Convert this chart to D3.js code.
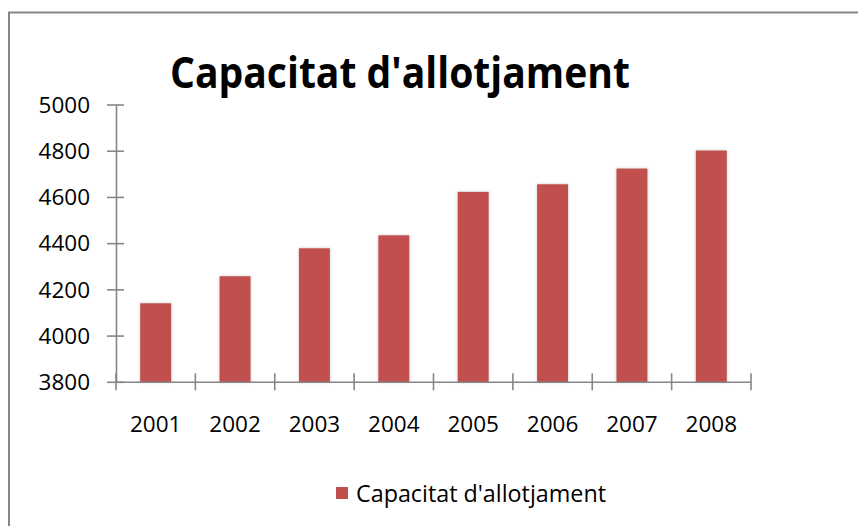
<!DOCTYPE html>
<html>
<head>
<meta charset="utf-8">
<script src="https://cdn.jsdelivr.net/npm/d3@7"></script>
<style>
  html, body { margin: 0; padding: 0; background: #fff; }
  svg { display: block; }
</style>
</head>
<body>
<div id="chart"></div>
<script>
const categories = ["2001", "2002", "2003", "2004", "2005", "2006", "2007", "2008"];
const values = [4142, 4259, 4380, 4436, 4624, 4657, 4725, 4803];
const yTicks = [3800, 4000, 4200, 4400, 4600, 4800, 5000];
const seriesName = "Capacitat d'allotjament";
const titleText = "Capacitat d'allotjament";

const W = 858, H = 526;
const axisColor = "#868686";
const barColor = "#C0504D";
const font = "'Open Sans', sans-serif";

const svg = d3.select("#chart").append("svg").attr("width", W).attr("height", H);

const defs = svg.append("defs");
const f = defs.append("filter").attr("id", "glow").attr("x", "-30%").attr("y", "-10%").attr("width", "160%").attr("height", "120%");
f.append("feDropShadow").attr("dx", 0).attr("dy", 0).attr("stdDeviation", 1.6)
  .attr("flood-color", "#999").attr("flood-opacity", 0.55);

// outer border
svg.append("rect").attr("x", 9).attr("y", 12.5).attr("width", W + 20).attr("height", H + 20)
  .attr("fill", "none").attr("stroke", axisColor).attr("stroke-width", 2);

const x0 = 116, x1 = 751, yTop = 105, yBot = 382.3;
const y = d3.scaleLinear().domain([3800, 5000]).range([yBot, yTop]);
const pad = 0.61;
const x = d3.scaleBand().domain(categories).range([x0, x1]).paddingInner(pad).paddingOuter(pad / 2);
const xEdge = d3.scaleLinear().domain([0, categories.length]).range([x0, x1]);

// bars
svg.append("g").selectAll("rect").data(values).join("rect")
  .attr("x", (d, i) => x(categories[i]))
  .attr("y", d => y(d))
  .attr("width", x.bandwidth())
  .attr("height", d => y(3800) - y(d))
  .attr("fill", barColor)
  .attr("filter", "url(#glow)");

// y axis
const yAxis = svg.append("g").attr("transform", `translate(${x0},0)`)
  .call(d3.axisLeft(y).tickValues(yTicks).tickSize(0).tickPadding(26).tickFormat(d3.format("d")));
yAxis.select(".domain").attr("stroke", axisColor).attr("stroke-width", 1.6);
yAxis.selectAll("text").attr("font-family", font).attr("font-size", "22.5px").attr("fill", "#000");
svg.append("g").selectAll("line").data(yTicks).join("line")
  .attr("x1", x0 - 9).attr("x2", x0 + 8)
  .attr("y1", d => y(d)).attr("y2", d => y(d))
  .attr("stroke", axisColor).attr("stroke-width", 1.6);

// x axis
const xAxis = svg.append("g").attr("transform", `translate(0,${yBot})`)
  .call(d3.axisBottom(x).tickSize(0).tickPadding(34));
xAxis.select(".domain").remove();
xAxis.selectAll("text").attr("font-family", font).attr("font-size", "22.5px").attr("fill", "#000");
svg.append("line").attr("x1", x0).attr("x2", x1).attr("y1", yBot).attr("y2", yBot)
  .attr("stroke", axisColor).attr("stroke-width", 1.6);
svg.append("g").selectAll("line").data(d3.range(categories.length + 1)).join("line")
  .attr("x1", d => xEdge(d)).attr("x2", d => xEdge(d))
  .attr("y1", yBot - 9).attr("y2", yBot + 8)
  .attr("stroke", axisColor).attr("stroke-width", 1.6);

// title
svg.append("text").attr("x", 400).attr("y", 88).attr("text-anchor", "middle")
  .attr("font-family", font).attr("font-weight", "bold").attr("font-size", "43px")
  .attr("textLength", 460).attr("lengthAdjust", "spacingAndGlyphs")
  .attr("fill", "#000").text(titleText);

// legend
svg.append("rect").attr("x", 336).attr("y", 487).attr("width", 12).attr("height", 12).attr("fill", barColor);
svg.append("text").attr("x", 356).attr("y", 501.5)
  .attr("font-family", font).attr("font-size", "23px")
  .attr("textLength", 250).attr("lengthAdjust", "spacingAndGlyphs")
  .attr("fill", "#000").text(seriesName);
</script>
</body>
</html>
